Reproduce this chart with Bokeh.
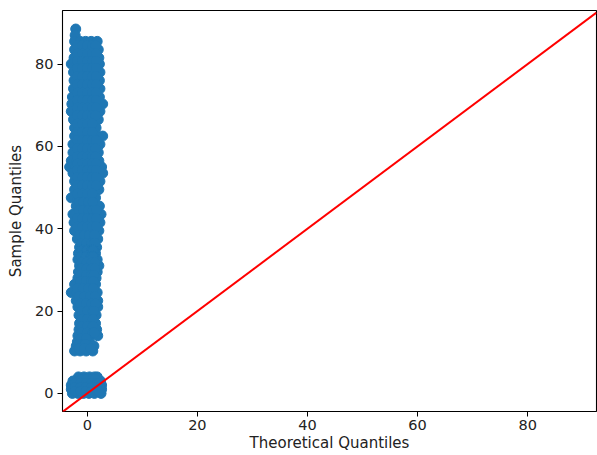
from bokeh.plotting import figure
from bokeh.models import Range1d, FixedTicker
from bokeh.embed import file_html
from bokeh.resources import INLINE

# ---- data ----
# each row: sample quantile value and the theoretical quantiles of its points
row_y = [88.5, 87, 85.5, 83.5, 81.5, 80, 78, 76, 74, 72, 70.3, 68.5, 66.5, 64.5,
         62.5, 60.5, 58.5, 56.5, 55, 53.5, 51.5, 49.5, 47.5, 45.5, 43.5, 41.5,
         39.5, 37.5, 35.5, 34, 32.5, 31, 29.5, 28, 26.5, 24.5, 22.5, 21, 19, 17,
         15.5, 14, 12.5, 11.5, 10.3, 4, 3, 2, 1, 0]
row_x = [
    [-2.1],
    [-2.2],
    [-2.3, -1.3, -0.3, 0.7, 1.8],
    [-2.3, -1.2, -0.2, 0.9, 2.0],
    [-2.4, -1.3, -0.2, 0.9, 2.1],
    [-2.9, -1.9, -0.9, 0.2, 1.2, 2.2],
    [-2.5, -1.5, -0.4, 0.6, 1.6, 2.3],
    [-2.4, -1.4, -0.4, 0.6, 1.5, 2.2],
    [-2.5, -1.5, -0.4, 0.6, 1.6, 2.3],
    [-2.7, -1.7, -0.6, 0.4, 1.4, 2.2],
    [-2.8, -1.7, -0.6, 0.5, 1.6, 2.8],
    [-2.9, -1.8, -0.7, 0.3, 1.3, 2.3],
    [-2.5, -1.5, -0.4, 0.6, 1.4, 2.0],
    [-2.3, -1.3, -0.3, 0.7, 1.6],
    [-2.3, -1.3, -0.2, 0.8, 1.8, 2.8],
    [-2.6, -1.6, -0.5, 0.5, 1.5, 2.3],
    [-2.6, -1.6, -0.5, 0.5, 1.5, 2.0],
    [-2.9, -1.9, -0.8, 0.2, 1.2, 2.1],
    [-3.2, -2.1, -1.0, 0.0, 1.0, 1.9, 2.6],
    [-2.6, -1.6, -0.5, 0.5, 1.6, 2.8],
    [-2.3, -1.3, -0.2, 0.8, 1.6, 2.3],
    [-2.3, -1.3, -0.2, 0.8, 1.6, 2.1],
    [-2.9, -1.8, -0.7, 0.4, 1.5],
    [-2.0, -1.0, 0.0, 1.1, 2.2],
    [-2.6, -1.5, -0.5, 0.5, 1.5, 2.5],
    [-2.4, -1.4, -0.3, 0.7, 1.6, 2.3],
    [-2.3, -1.3, -0.2, 0.9, 2.1],
    [-1.8, -0.8, 0.2, 1.1, 1.9],
    [-1.4, -0.4, 0.6, 1.7],
    [-1.6, -0.6, 0.5, 1.5],
    [-1.7, -0.7, 0.3, 1.2, 1.8],
    [-1.4, -0.4, 0.6, 1.5, 2.1],
    [-1.6, -0.6, 0.5, 1.8],
    [-1.7, -0.7, 0.4, 1.6],
    [-2.3, -1.3, -0.3, 0.7, 1.5],
    [-2.9, -1.9, -0.9, 0.1, 1.0, 1.8],
    [-2.0, -1.0, 0.0, 1.0, 1.9],
    [-1.7, -0.7, 0.3, 1.2, 1.9],
    [-1.5, -0.5, 0.5, 1.6],
    [-1.4, -0.4, 0.6, 1.5],
    [-1.5, -0.5, 0.6, 1.7],
    [-1.7, -0.6, 0.5, 1.9],
    [-1.8, -0.7, 0.4],
    [-2.0, -1.0, 0.1, 1.2],
    [-2.3, -1.3, -0.2, 1.0],
    [-1.6, -0.6, 0.4, 1.3, 1.8],
    [-2.6, -1.6, -0.6, 0.4, 1.4, 2.4],
    [-2.9, -1.9, -0.9, 0.1, 1.1, 2.1, 2.6],
    [-2.9, -1.9, -0.9, 0.1, 1.1, 2.1, 2.6],
    [-2.7, -1.7, -0.7, 0.3, 1.3, 2.5],
]
# interior points lying between the rows above
inner_y = [84.5, 82.5, 80.75, 79, 77, 75, 73, 71.2, 69.4, 67.5, 65.5, 63.5,
           61.5, 59.5, 57.5, 55.75, 54.25, 52.5, 50.5, 48.5, 46.5, 44.5, 42.5,
           40.5, 38.5, 36.5, 34.75, 33.25, 31.75, 30.25, 28.75, 27.25, 25.5,
           23.5, 21.75, 20, 18, 16.25, 14.75, 13.25, 12, 10.9, 3.5, 2.5, 1.5, 0.5]
inner_x = [
    [-1.8, -0.9, 0.0, 0.9, 1.5],
    [-1.8, -0.9, 0.0, 0.9, 1.6],
    [-1.8, -0.9, 0.0, 0.9, 1.6],
    [-1.8, -0.9, 0.0, 0.9, 1.6],
    [-1.8, -0.9, 0.0, 0.9, 1.6],
    [-1.8, -0.9, 0.0, 0.9, 1.6],
    [-1.8, -0.9, 0.0, 0.9, 1.6],
    [-1.8, -0.9, 0.0, 0.9, 1.6],
    [-1.8, -0.9, 0.0, 0.9, 1.6],
    [-1.8, -0.9, 0.0, 0.9, 1.5],
    [-1.8, -0.9, 0.0, 0.9],
    [-1.8, -0.9, 0.0, 0.9],
    [-1.8, -0.9, 0.0, 0.9, 1.6],
    [-1.8, -0.9, 0.0, 0.9, 1.5],
    [-1.8, -0.9, 0.0, 0.9, 1.5],
    [-1.8, -0.9, 0.0, 0.9, 1.6],
    [-1.8, -0.9, 0.0, 0.9, 1.6],
    [-1.8, -0.9, 0.0, 0.9, 1.6],
    [-1.8, -0.9, 0.0, 0.9, 1.6],
    [-1.8, -0.9, 0.0, 0.9],
    [-1.5, -0.7, 0.2, 1.0],
    [-1.5, -0.7, 0.2, 1.0, 1.7],
    [-1.8, -0.9, 0.0, 0.9, 1.6],
    [-1.8, -0.9, 0.0, 0.9, 1.6],
    [-1.4, -0.5, 0.4, 1.3],
    [-1.0, -0.1, 0.8, 1.3],
    [-1.0, -0.1, 0.8, 1.1],
    [-1.2, -0.2, 0.7, 1.1],
    [-1.0, -0.1, 0.8, 1.4],
    [-1.0, -0.1, 0.8, 1.4],
    [-1.2, -0.2, 0.7, 1.2],
    [-1.2, -0.2, 0.7, 1.1],
    [-1.8, -0.8, 0.2, 1.1],
    [-1.5, -0.5, 0.5, 1.4],
    [-1.2, -0.2, 0.8, 1.5],
    [-1.0, 0.0, 1.0, 1.2],
    [-1.0, 0.0, 1.0],
    [-1.0, 0.0, 1.0],
    [-1.0, 0.0, 1.0, 1.3],
    [-1.2, -0.2],
    [-1.4, -0.4],
    [-1.5, -0.5, 0.6],
    [-1.1, -0.1, 0.9, 1.4],
    [-2.2, -1.2, -0.2, 0.8, 1.8, 2.2],
    [-2.2, -1.2, -0.2, 0.8, 1.8, 2.2],
    [-2.2, -1.2, -0.2, 0.8, 1.8, 2.1],
]
x_ticks = [0, 20, 40, 60, 80]
y_ticks = [0, 20, 40, 60, 80]
x_lim = (-4.5, 92.5)
y_lim = (-4.4, 93.0)

theo = [x for xs in row_x for x in xs] + [x for xs in inner_x for x in xs]
sample = ([ys for ys, xs in zip(row_y, row_x) for x in xs]
          + [ys for ys, xs in zip(inner_y, inner_x) for x in xs])

p = figure(width=597, height=455, output_backend="svg", toolbar_location=None,
           x_range=Range1d(*x_lim), y_range=Range1d(*y_lim),
           min_border_left=62, min_border_right=1, min_border_top=10,
           min_border_bottom=44)
p.background_fill_color = "white"
p.border_fill_color = "white"
p.outline_line_color = "black"
p.outline_line_width = 1.1
p.grid.visible = False

p.scatter(theo, sample, size=10, color="#1f77b4")
p.line([x_lim[0], x_lim[1]], [x_lim[0], x_lim[1]], color="#ff0000", line_width=2)

for ax, ticks in ((p.xaxis, x_ticks), (p.yaxis, y_ticks)):
    ax.ticker = FixedTicker(ticks=ticks)
    ax.axis_line_color = None
    ax.major_tick_line_color = "black"
    ax.major_tick_out = 5
    ax.major_tick_in = 0
    ax.minor_tick_line_color = None
    ax.major_label_text_font = "DejaVu Sans"
    ax.major_label_text_font_size = "14.5px"
    ax.major_label_text_color = "#222222"
    ax.axis_label_text_font = "DejaVu Sans"
    ax.axis_label_text_font_size = "15px"
    ax.axis_label_text_font_style = "normal"
    ax.axis_label_text_color = "#222222"

p.xaxis.axis_label = "Theoretical Quantiles"
p.yaxis.axis_label = "Sample Quantiles"
p.xaxis.major_label_standoff = 3
p.yaxis.major_label_standoff = 4
p.xaxis.axis_label_standoff = 1
p.yaxis.axis_label_standoff = 7

open("out.html", "w").write(file_html(p, INLINE))
